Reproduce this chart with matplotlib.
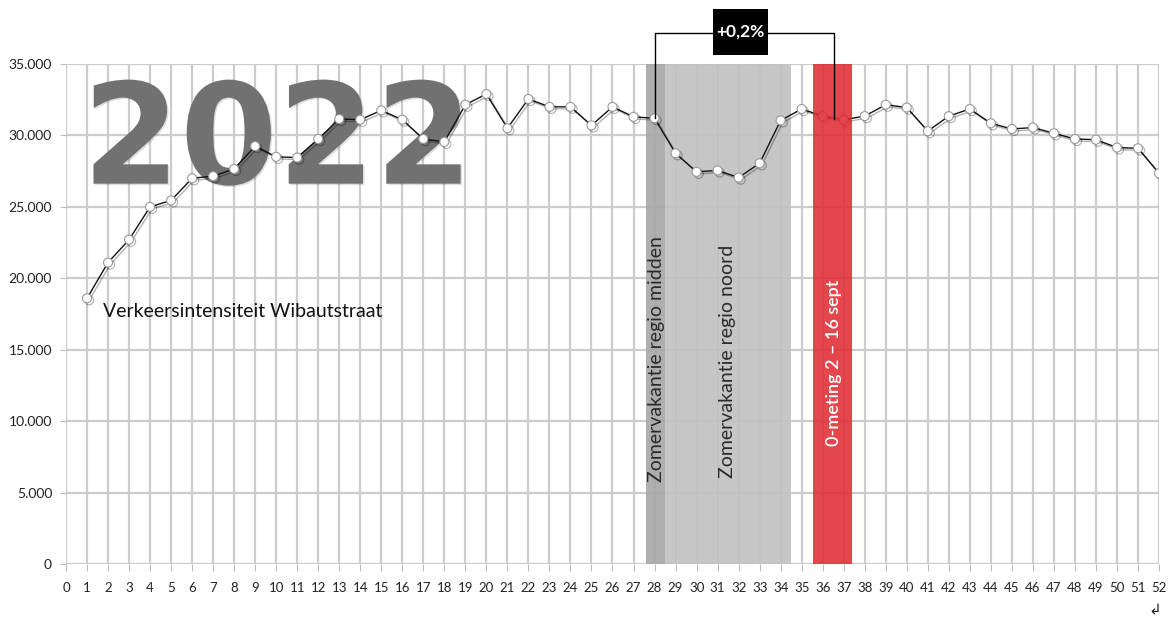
import matplotlib.pyplot as plt
import matplotlib.patheffects as pe
from matplotlib.patches import Rectangle

# Verkeersintensiteit Wibautstraat per week (2022)
weken = list(range(1, 53))
intensiteit = [18600, 21100, 22700, 25000, 25450, 27000, 27150, 27650, 29250, 28500,
               28450, 29750, 31150, 31100, 31750, 31100, 29750, 29550, 32150, 32900,
               30500, 32550, 32000, 32000, 30700, 32000, 31300, 31200, 28750, 27450,
               27550, 27050, 28050, 31050, 31850, 31350, 31100, 31350, 32150, 31950,
               30300, 31350, 31850, 30850, 30450, 30550, 30150, 29750, 29700, 29150,
               29100, 27350]

x_ticks = list(range(0, 53))
y_ticks = [0, 5000, 10000, 15000, 20000, 25000, 30000, 35000]
y_labels = ['0', '5.000', '10.000', '15.000', '20.000', '25.000', '30.000', '35.000']

# perioden (weeknummers)
midden = (27.6, 28.5)
noord = (28.5, 34.5)
nulmeting = (35.55, 37.4)
vergelijk = (28, 36.55)

plt.rcParams['font.family'] = ['Lato', 'DejaVu Sans']

fig = plt.figure(figsize=(11.68, 6.26), dpi=100)
ax = fig.add_axes([0.0565, 0.099, 0.9358, 0.7988])

ax.set_xlim(0, 52)
ax.set_ylim(0, 35000)
ax.set_xticks(x_ticks)
ax.set_xticklabels([str(t) for t in x_ticks], fontsize=9.5, color='#222222')
ax.set_yticks(y_ticks)
ax.set_yticklabels(y_labels, fontsize=10, color='#222222')
ax.tick_params(axis='x', length=5, color='#bbbbbb', pad=8)
ax.tick_params(axis='y', length=4, color='#bbbbbb', pad=6)
for s in ax.spines.values():
    s.set_visible(False)
ax.grid(True, color='#cccccc', linewidth=1.6, zorder=0)
ax.set_axisbelow(True)

# grote jaartal
ax.text(0.78, 29350, '2022', fontsize=101, fontweight='bold', color='#717171',
        family='DejaVu Sans', ha='left', va='center', zorder=1,
        path_effects=[pe.withSimplePatchShadow(offset=(1, -1), alpha=0.15)])

# vakantieperiodes
ax.axvspan(*midden, color='#a8a8a8', alpha=0.92, lw=0, zorder=2)
ax.axvspan(*noord, color='#c2c2c2', alpha=0.92, lw=0, zorder=2)

ax.plot(weken, intensiteit, color='#111111', lw=1.0, marker='o', markersize=6.5,
        markerfacecolor='white', markeredgecolor='#999999', markeredgewidth=0.8, zorder=4,
        path_effects=[pe.SimpleLineShadow(offset=(1.5, -1.5), alpha=0.3), pe.Normal()])

ax.axvspan(*nulmeting, color='#e0262c', alpha=0.85, lw=0, zorder=5)

ax.text(28.1, 14350, 'Zomervakantie regio midden', rotation=90, fontsize=14,
        color='#2a2a2a', ha='center', va='center', zorder=6)
ax.text(31.45, 14200, 'Zomervakantie regio noord', rotation=90, fontsize=14,
        color='#2a2a2a', ha='center', va='center', zorder=6)
ax.text(36.55, 14100, '0-meting 2 – 16 sept', rotation=90, fontsize=13, fontweight='semibold',
        color='white', ha='center', va='center', zorder=6)

ax.text(1.75, 17650, 'Verkeersintensiteit Wibautstraat', fontsize=14, color='#111111',
        ha='left', va='center', zorder=6)

# vergelijkingshaak
i0 = weken.index(28)
top = 37170
ax.plot([vergelijk[0], vergelijk[0], vergelijk[1], vergelijk[1]],
        [intensiteit[i0], top, top, 31150], color='black', lw=1.0, clip_on=False, zorder=7)
ax.add_patch(Rectangle((30.78, 35630), 2.62, 3220, fc='black', ec='none',
                       clip_on=False, zorder=8))
ax.text(32.09, 37240, '+0,2%', fontsize=12.5, fontweight='bold',
        color='white', ha='center', va='center', zorder=9)

fig.text(0.989, 0.025, '↲', fontsize=11, color='#222222', ha='center', va='center',
         family='DejaVu Sans')

plt.savefig('out.png', dpi=100)
